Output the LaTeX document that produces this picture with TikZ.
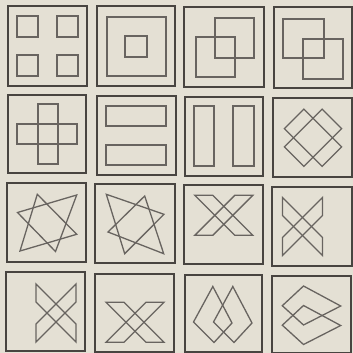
\documentclass[tikz,border=0pt]{standalone}
\definecolor{bg}{RGB}{228,224,212}
\definecolor{fr}{RGB}{72,68,64}
\definecolor{ln}{RGB}{104,100,96}
\tikzset{
  frame/.style={draw=fr, line width=1.1pt},
  fig/.style={draw=ln, line width=1.3pt, line join=miter},
  xh/.pic={
    \draw[fig] (-29,-20)--(-11,-20)--(29,20)--(11,20)--cycle;
    \draw[fig] (11,-20)--(29,-20)--(-11,20)--(-29,20)--cycle;
  },
  rotrect/.pic={
    \draw[fig] (-26.7,-13.8)--(26.7,-13.8)--(26.7,13.8)--(-26.7,13.8)--cycle;
  }
}
\begin{document}
\begin{tikzpicture}[x=1pt,y=-1pt]
\fill[bg] (0,0) rectangle (353,353);
\useasboundingbox (0,0) rectangle (353,353);
% frames
\draw[frame] (8,6) rectangle (87,86);
\draw[frame] (97,6) rectangle (175,86);
\draw[frame] (184,7) rectangle (264,87);
\draw[frame] (274,7) rectangle (352,88);
\draw[frame] (8,95) rectangle (86,173);
\draw[frame] (97,96) rectangle (176,175);
\draw[frame] (185,97) rectangle (263,176);
\draw[frame] (273,98) rectangle (352,177);
\draw[frame] (7,183) rectangle (86,262);
\draw[frame] (95,184) rectangle (175,263);
\draw[frame] (184,185) rectangle (263,264);
\draw[frame] (272,187) rectangle (352,266);
\draw[frame] (6,272) rectangle (85,351);
\draw[frame] (95,274) rectangle (174,352);
\draw[frame] (185,275) rectangle (262,352);
\draw[frame] (272,276) rectangle (351,352.4);
% row 1
\draw[fig] (17,16) rectangle (38,37);
\draw[fig] (57,16) rectangle (78,37);
\draw[fig] (17,55) rectangle (38,76);
\draw[fig] (57,55) rectangle (78,76);
\draw[fig] (107,17) rectangle (166,76);
\draw[fig] (125,36) rectangle (147,57);
\draw[fig] (215,18) rectangle (254,58);
\draw[fig] (196,37) rectangle (235,77);
\draw[fig] (283,19) rectangle (324,58);
\draw[fig] (303,39) rectangle (343,79);
% row 2
\draw[fig] (38,104) rectangle (58,164);
\draw[fig] (17,124) rectangle (77,144);
\draw[fig] (106,106) rectangle (166,126);
\draw[fig] (106,145) rectangle (166,165);
\draw[fig] (194,106) rectangle (214,166);
\draw[fig] (233,106) rectangle (254,166);
\pic[rotate=45] at (313,137.7) {rotrect};
\pic[rotate=-45] at (313,137.7) {rotrect};
% row 3
\draw[fig] (37.3,194.3)--(76.7,234.3)--(20,251)--cycle;
\draw[fig] (76.7,195)--(55.5,251.5)--(17.5,212.5)--cycle;
\draw[fig] (106.3,194.3)--(164,214.3)--(124.7,253.7)--cycle;
\draw[fig] (144.7,196)--(163.7,253.7)--(108,232)--cycle;
\pic at (223.8,215.3) {xh};
\pic[rotate=90] at (302.5,226.5) {xh};
% row 4
\pic[rotate=90] at (56,313) {xh};
\pic at (135,322.3) {xh};
\draw[fig] (212.8,286.5)--(193.5,322)--(214,342.5)--(232,323)--cycle;
\draw[fig] (232.8,286.5)--(213.5,322)--(234,342.5)--(252,323)--cycle;
\draw[fig] (340.7,306)--(303.5,286)--(282.3,305.7)--(303.5,325)--cycle;
\draw[fig] (340.7,325.5)--(303.5,305.5)--(282.3,325.2)--(303.5,344.5)--cycle;
\end{tikzpicture}
\end{document}
